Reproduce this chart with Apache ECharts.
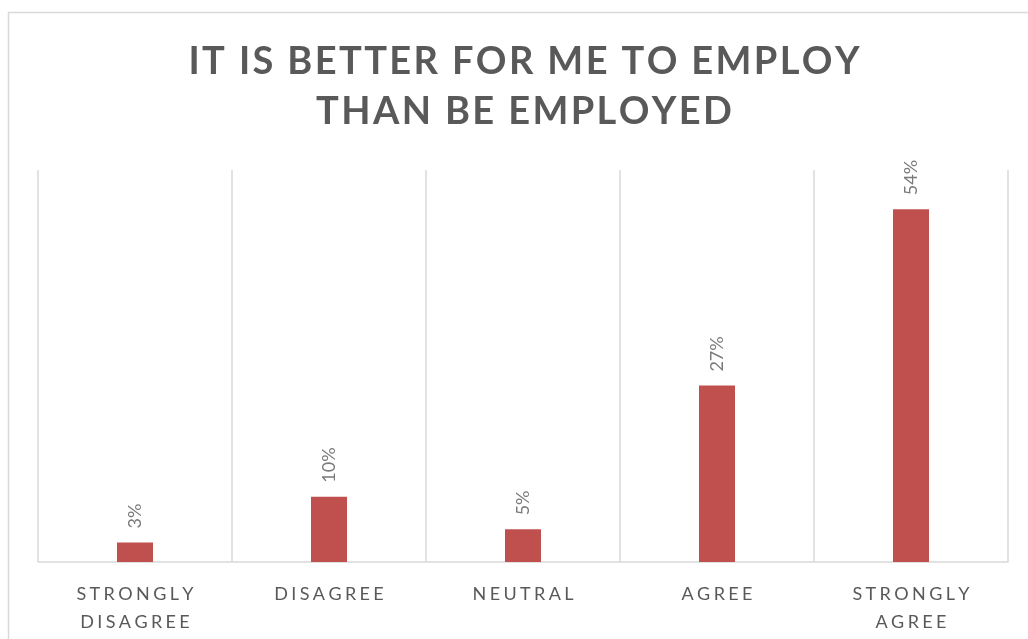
<!DOCTYPE html>
<html>
<head>
<meta charset="utf-8">
<script src="https://cdn.jsdelivr.net/npm/echarts@6/dist/echarts.min.js"></script>
<style>
  html, body { margin: 0; padding: 0; background: #fff; }
  #chart { width: 1028px; height: 639px; }
</style>
</head>
<body>
<div id="chart"></div>
<script>
// Survey responses: "It is better for me to employ than be employed"
const titleLines = ['IT IS BETTER FOR ME TO EMPLOY', 'THAN BE EMPLOYED'];
const categories = ['STRONGLY\nDISAGREE', 'DISAGREE', 'NEUTRAL', 'AGREE', 'STRONGLY\nAGREE'];
const percentages = [3, 10, 5, 27, 54];

const FONT = 'Lato';
const TEXT_GREY = '#595959';
const LINE_GREY = '#d9d9d9';
const BAR_RED = '#c0504d';

// ECharts has no letter-spacing, so tracked caps are spaced with thin spaces
function track(str, gap) {
  return str.split('\n').map(line => Array.from(line).join(gap)).join('\n');
}

const chart = echarts.init(document.getElementById('chart'));
chart.setOption({
  animation: false,
  backgroundColor: '#fff',
  graphic: [{
    // outer chart frame, running off the right and bottom of the view
    type: 'rect',
    shape: { x: 8.5, y: 12.5, width: 1100, height: 700 },
    style: { fill: 'none', stroke: LINE_GREY, lineWidth: 1.5 },
    silent: true,
    z: -1
  }, {
    // two-line heading, centred on the frame
    type: 'text',
    x: 524,
    y: 37,
    silent: true,
    style: {
      text: track(titleLines.join('\n'), '\u200A'),
      align: 'center',
      verticalAlign: 'top',
      fontFamily: FONT,
      fontWeight: 'bold',
      fontSize: 38,
      lineHeight: 50,
      fill: TEXT_GREY
    }
  }],
  grid: { left: 38, right: 20, top: 170, bottom: 77, containLabel: false },
  xAxis: {
    type: 'category',
    data: categories,
    boundaryGap: true,
    axisLine: { lineStyle: { color: LINE_GREY, width: 1.5 } },
    axisTick: { show: false },
    splitLine: { show: true, lineStyle: { color: LINE_GREY, width: 1.5 } },
    axisLabel: {
      interval: 0,
      margin: 18,
      formatter: v => track(v, '\u2009\u200A'),
      fontFamily: FONT,
      fontSize: 18,
      lineHeight: 28,
      color: TEXT_GREY
    }
  },
  yAxis: {
    type: 'value',
    min: 0,
    max: 60,
    show: false,
    splitLine: { show: false }
  },
  series: [{
    type: 'bar',
    data: percentages,
    barWidth: 36,
    itemStyle: { color: BAR_RED },
    label: {
      show: true,
      position: 'top',
      rotate: 90,
      align: 'left',
      verticalAlign: 'middle',
      distance: 14,
      formatter: p => p.value + '%',
      fontFamily: FONT,
      fontSize: 18,
      color: '#7a7a7a'
    }
  }]
});
</script>
</body>
</html>
